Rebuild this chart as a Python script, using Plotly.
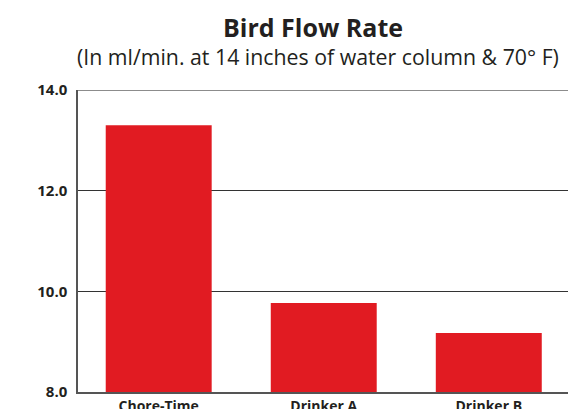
import plotly.graph_objects as go

categories = ["Chore-Time", "Drinker A", "Drinker B"]
flow_rates = [13.3, 9.77, 9.17]
y_ticks = [8, 10, 12, 14]
y_tick_labels = ["8.0", "10.0", "12.0", "14.0"]

title_text = "Bird Flow Rate"
subtitle_text = "(In ml/min. at 14 inches of water column &amp; 70° F)"

W, H = 568, 409
M_L, M_R, M_T, M_B = 78, 0, 90, 17

fig = go.Figure(
    go.Bar(
        x=list(range(len(categories))),
        y=flow_rates,
        marker=dict(color="#E11B22", line=dict(width=0)),
        width=0.642,
    )
)

plot_h = H - M_T - M_B
plot_w = W - M_L - M_R

def ypix(py):
    return (H - M_B - py) / plot_h

def xpix(px):
    return (px - M_L) / plot_w

fig.update_layout(
    width=W,
    height=H,
    margin=dict(l=M_L, r=M_R, t=M_T, b=M_B),
    paper_bgcolor="white",
    plot_bgcolor="white",
    showlegend=False,
    font=dict(family="Open Sans", color="#231F20"),
    annotations=[
        dict(text="<b>" + title_text + "</b>", x=xpix(313), xref="paper", y=ypix(27), yref="paper",
             showarrow=False, font=dict(size=25, color="#231F20", family="Open Sans"),
             xanchor="center", yanchor="middle"),
        dict(text=subtitle_text, x=xpix(318), xref="paper", y=ypix(56), yref="paper",
             showarrow=False, font=dict(size=21.3, color="#231F20", family="Open Sans"),
             xanchor="center", yanchor="middle"),
    ],
    shapes=[
        dict(type="line", xref="paper", x0=0, x1=1, yref="y", y0=y_ticks[-1], y1=y_ticks[-1],
             line=dict(color="#666666", width=1.5), layer="above"),
    ],
)

fig.update_xaxes(
    tickmode="array",
    tickvals=list(range(len(categories))),
    ticktext=["<b>" + c + "</b>" for c in categories],
    range=[-0.489, 2.48],
    showline=True,
    linecolor="#555555",
    linewidth=1.5,
    showgrid=False,
    zeroline=False,
    ticks="",
    tickfont=dict(size=14, color="#231F20", family="Open Sans"),
    automargin=False,
)

fig.update_yaxes(
    range=[8, 14],
    tickmode="array",
    tickvals=y_ticks,
    ticktext=["<b>" + t + "</b>" for t in y_tick_labels],
    showline=True,
    linecolor="#555555",
    linewidth=1.5,
    showgrid=True,
    gridcolor="#333333",
    gridwidth=1,
    zeroline=False,
    ticks="",
    ticklabelstandoff=6,
    tickfont=dict(size=15, color="#231F20", family="Open Sans"),
    automargin=False,
)

fig.write_html(
    "out.html",
    config={"displayModeBar": False},
    post_script="document.body.style.margin='0';document.body.style.overflow='hidden';",
)
